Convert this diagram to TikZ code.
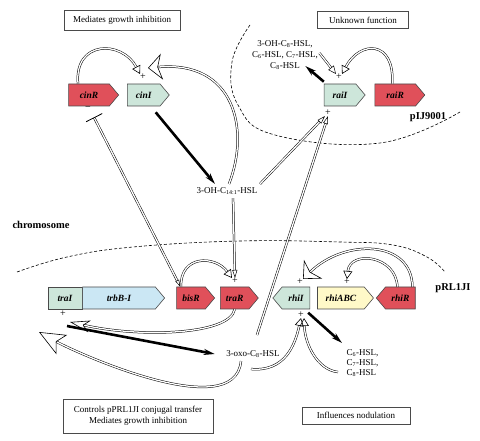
\documentclass[tikz,border=0pt]{standalone}
\usepackage{fontspec}
\setmainfont{Liberation Serif}
\usetikzlibrary{arrows.meta}
\usetikzlibrary{positioning}
\usetikzlibrary{shapes.symbols}
\definecolor{GeneRed}{HTML}{E0505A}
\definecolor{GeneGreen}{HTML}{CDE6DA}
\definecolor{GeneBlue}{HTML}{CBE7F4}
\definecolor{GeneYellow}{HTML}{FFF9C8}
\definecolor{EdgeGray}{HTML}{4A4A4A}

\begin{document}
\begin{tikzpicture}[x=1pt, y=-1pt,
  every node/.style={font=\fontsize{9}{10.5}\selectfont},
  gene/.style={signal, signal to=east, signal pointer angle=100, draw=EdgeGray,
    line width=0.6pt, minimum height=22pt, inner sep=1pt,
    font=\fontsize{9.5}{11}\selectfont\bfseries\itshape},
  genewest/.style={gene, signal to=west},
  note/.style={draw=EdgeGray, line width=0.7pt, inner sep=3pt, align=center},
  pm/.style={inner sep=0pt, font=\fontsize{10}{10}\selectfont},
  tag/.style={font=\fontsize{10.5}{12}\selectfont\bfseries},
  dbl/.style={double=white, double distance=1.3pt, line width=0.5pt},
  act/.style={dbl, -{Triangle[open, line width=0.5pt, length=8pt, width=5pt]}},
  loopact/.style={dbl, -{Triangle[open, line width=0.6pt, length=8pt, width=9pt]}},
  bigact/.style={dbl, -{Stealth[open, line width=0.6pt, length=14pt, width=26pt, inset=4pt]}},
  chevact/.style={dbl, -{Stealth[open, line width=0.6pt, length=20pt, width=12pt, inset=6pt]}},
  synth/.style={line width=2.6pt, -{Stealth[length=11pt, width=6pt]}}]

  \useasboundingbox (0,0) rectangle (480,441);

  % boxes with functions
  \node[note, minimum width=116pt, minimum height=20pt] (MedBox) at (122,20) {Mediates growth inhibition};
  \node[note, minimum width=91pt, minimum height=17pt] (UnkBox) at (363,20) {Unknown function};
  \node[note, minimum width=150pt, minimum height=34pt] (CtrlBox) at (138,416) {Controls pPRL1JI conjugal transfer\\Mediates growth inhibition};
  \node[note, minimum width=108pt, minimum height=17pt] (NodBox) at (356,415.5) {Influences nodulation};

  % replicon borders
  \draw[dashed, dash pattern=on 3pt off 2pt, line width=0.6pt] plot[smooth, tension=0.7]
    coordinates {(250,25) (232,62) (238,105) (275,135) (380,143) (460,112)};
  \draw[dashed, dash pattern=on 3pt off 2pt, line width=0.6pt] plot[smooth, tension=0.7]
    coordinates {(17,272) (67,257) (133,247) (240,241) (340,242) (393,245) (427,257) (445,272)};

  \node[tag] (Chrom) at (41,225) {chromosome};
  \node[tag] (Pij) at (428,117) {pIJ9001};
  \node[tag] (Prl) at (453,288) {pRL1JI};

  % genes
  \node[gene, fill=GeneRed, minimum width=50pt] (CinR) at (89,95) {cinR};
  \node[gene, fill=GeneGreen, minimum width=42pt, right=8pt of CinR] (CinI) {cinI};
  \node[gene, fill=GeneGreen, minimum width=41pt] (RaiI) at (340,95) {raiI};
  \node[gene, fill=GeneRed, minimum width=50pt, right=9pt of RaiI] (RaiR) {raiR};

  \node[draw=EdgeGray, line width=0.6pt, fill=GeneGreen, minimum width=34pt, minimum height=22pt,
    inner sep=1pt, font=\fontsize{9.5}{11}\selectfont\bfseries\itshape] (TraI) at (65,298) {traI};
  \node[gene, fill=GeneBlue, minimum width=82pt, right=0pt of TraI] (TrbB) {trbB-I};
  \node[gene, fill=GeneRed, minimum width=38pt] (BisR) at (191,298) {bisR};
  \node[gene, fill=GeneRed, minimum width=38pt, right=5pt of BisR] (TraR) {traR};
  \node[genewest, fill=GeneGreen, minimum width=37pt] (RhiI) at (296,298) {rhiI};
  \node[gene, fill=GeneYellow, minimum width=56pt, right=7pt of RhiI] (RhiABC) {rhiABC};
  \node[genewest, fill=GeneRed, minimum width=39pt, right=2pt of RhiABC] (RhiR) {rhiR};

  % signs
  \node[pm] (PCinI) at (143,77) {+};
  \node[pm] (MCinR) at (88,109) {−};
  \node[pm] (PRaiIa) at (339,77) {+};
  \node[pm] (PRaiIb) at (328,113) {+};
  \node[pm] (PTraR) at (235,281) {+};
  \node[pm] (PRhiI) at (300,282) {+};
  \node[pm] (PRhiABC) at (347,282) {+};
  \node[pm] (PRhiIb) at (301,315) {+};
  \node[pm] (PTraI) at (63,314) {+};

  % signal molecules
  \node (Hsl14) at (227,191) {3-OH-C\textsubscript{14:1}-HSL};
  \node[align=center, font=\fontsize{9}{11}\selectfont] (RaiHsl) at (285,55)
    {3-OH-C\textsubscript{8}-HSL,\\C\textsubscript{6}-HSL, C\textsubscript{7}-HSL,\\C\textsubscript{8}-HSL};
  \node (Oxo) at (253,354) {3-oxo-C\textsubscript{8}-HSL};
  \node[align=left, anchor=north west, font=\fontsize{9}{10}\selectfont] (RhiHsl) at (343,346)
    {C\textsubscript{6}-HSL,\\C\textsubscript{7}-HSL,\\C\textsubscript{8}-HSL};

  % cin system
  \draw[loopact] ([xshift=-11pt]CinR.north) .. controls (74,40) and (122,40) .. (PCinI.north west);
  \draw[bigact] ([xshift=2pt]Hsl14.north) .. controls (250,130) and (235,60) .. ([shift={(5pt,6pt)}]PCinI.north);
  \draw[synth] ([shift={(12pt,-6pt)}]CinI.south) -- ([xshift=-12pt]Hsl14.north);
  \draw[dbl, {Bar[width=18pt, line width=0.8pt]}-{Triangle[open, line width=0.5pt, length=7pt, width=4pt]}]
    ([shift={(5pt,-11pt)}]CinR.south) -- ([xshift=4pt]BisR.north west);
  \draw[act] ([xshift=6pt]Hsl14.south) -- (PTraR.north);

  % rai system
  \draw[act] ([xshift=33pt]Hsl14.north) -- (PRaiIb.south west);
  \draw[act] ([shift={(4pt,12pt)}]Oxo.north) -- (PRaiIb.south);
  \draw[synth] ([yshift=2pt]RaiI.north west) -- ([shift={(-16pt,7pt)}]RaiHsl.south east);
  \draw[act, -{Triangle[open, line width=0.5pt, length=8pt, width=7pt]}]
    ([shift={(-2pt,2pt)}]RaiHsl.east) -- (PRaiIa.north west);
  \draw[loopact] ([xshift=-3pt]RaiR.north) .. controls (395,40) and (360,40) .. (PRaiIa.north east);

  % tra system
  \draw[loopact] ([xshift=-10pt]BisR.north) .. controls (180,255) and (215,255) .. (PTraR.north west);
  \draw[chevact] (TraR.south) .. controls (230,335) and (140,338) .. ([shift={(4pt,-8pt)}]PTraI.east);
  \draw[synth] ([shift={(4pt,-9pt)}]PTraI.south) -- ([xshift=-8pt]Oxo.west);
  \draw[dbl, -{Stealth[open, line width=0.6pt, length=26pt, width=22pt, inset=6pt]}]
    ([xshift=-12pt]Oxo.south) .. controls (235,425) and (75,352) .. ([shift={(-24pt,-15pt)}]PTraI.south);

  % rhi system
  \draw[bigact] ([xshift=12pt]RhiR.north) .. controls (412,240) and (345,238) .. (PRhiI.north east);
  \draw[loopact] ([xshift=-3pt]RhiR.north) .. controls (396,255) and (350,250) .. (PRhiABC.north);
  \draw[loopact] ([shift={(-2pt,-8pt)}]Oxo.south) .. controls (285,372) and (295,345) .. (PRhiIb.south);
  \draw[loopact] ([shift={(-5pt,-9pt)}]RhiHsl.west) .. controls (318,370) and (305,345) .. (PRhiIb.south east);
  \draw[synth] ([shift={(-2pt,-4pt)}]RhiI.south east) -- ([shift={(-1pt,3pt)}]RhiHsl.north west);
\end{tikzpicture}
\end{document}
